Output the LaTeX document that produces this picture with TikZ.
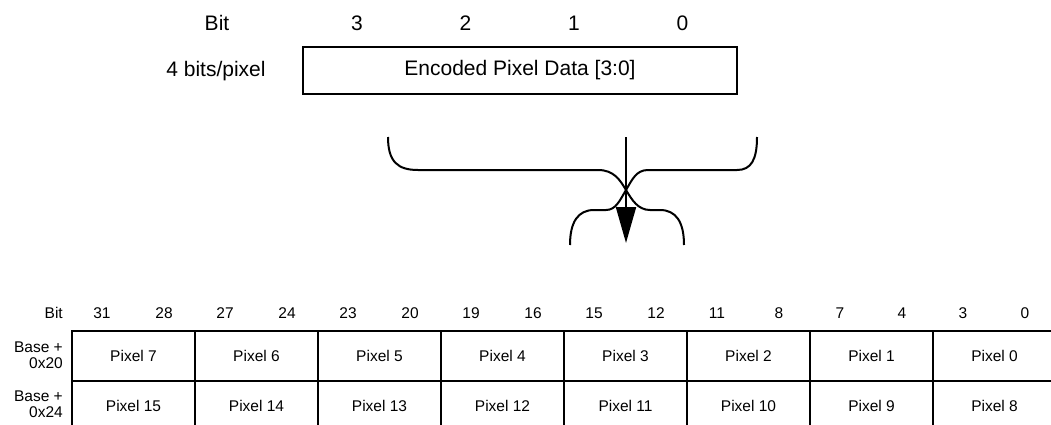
\documentclass[tikz,border=0pt]{standalone}
\usepackage{fontspec}
\setmainfont{Liberation Sans}
\usetikzlibrary{arrows.meta}
\tikzset{
  cell/.style={draw, line width=2pt, minimum width=123pt, minimum height=50pt, inner sep=0pt, font=\fontsize{15.5}{16}\selectfont},
  lbl/.style={inner sep=0pt, font=\fontsize{15.5}{16}\selectfont},
  toplbl/.style={inner sep=0pt, font=\fontsize{21}{25}\selectfont},
  brace/.style={line width=2pt}
}
\begin{document}
\begin{tikzpicture}[x=1pt,y=-1pt,>={Triangle[length=36pt,width=20pt]}]
    \useasboundingbox (0,0) rectangle (1051,425);
    % pixel format
    \node[toplbl] (bit) at (217,23) {Bit};
    \foreach \k/\d in {0/3,1/2,2/1,3/0}
      \node[toplbl] (b\d) at (357+108.5*\k,23) {\d};
    \node[toplbl] (fmt) at (216,71) {4 bits/pixel};
    \node[toplbl, draw, line width=2pt, minimum width=434pt, minimum height=47pt] (enc) at (520,70.5) {Encoded Pixel Data [3:0]};
    % braces and arrow
    \draw[brace] (388,137) .. controls (388,162) and (398,170) .. (418,170) -- (598,170)
      .. controls (614,170) and (620,180) .. (626,190)
      .. controls (632,180) and (636,170) .. (648,170) -- (737,170)
      .. controls (751,170) and (757,160) .. (757,137);
    \draw[brace] (570,245) .. controls (570,222) and (578,210) .. (594,210) -- (606,210)
      .. controls (616,210) and (620,200) .. (626,190)
      .. controls (632,200) and (638,210) .. (650,210) -- (660,210)
      .. controls (676,210) and (684,222) .. (684,245);
    \coordinate (src) at (626,137);
    \coordinate (dst) at (626,243);
    \draw[->, line width=2pt] (src) -- (dst);
    % memory layout
    \node[lbl, anchor=east] (bitrow) at (63,313) {Bit};
    \foreach \i in {0,...,7} {
      \pgfmathtruncatemacro{\hi}{31-4*\i}
      \pgfmathtruncatemacro{\lo}{28-4*\i}
      \pgfmathtruncatemacro{\pa}{7-\i}
      \pgfmathtruncatemacro{\pb}{15-\i}
      \node[lbl] (hi\i) at (102+123*\i,313) {\hi};
      \node[lbl] (lo\i) at (164+123*\i,313) {\lo};
      \node[cell] (p\pa) at (133.5+123*\i,356) {Pixel \pa};
      \node[cell] (p\pb) at (133.5+123*\i,406) {Pixel \pb};
    }
    \node[lbl, align=right, anchor=east] (row20) at (63,355) {Base +\\0x20};
    \node[lbl, align=right, anchor=east] (row24) at (63,404) {Base +\\0x24};
\end{tikzpicture}
\end{document}
